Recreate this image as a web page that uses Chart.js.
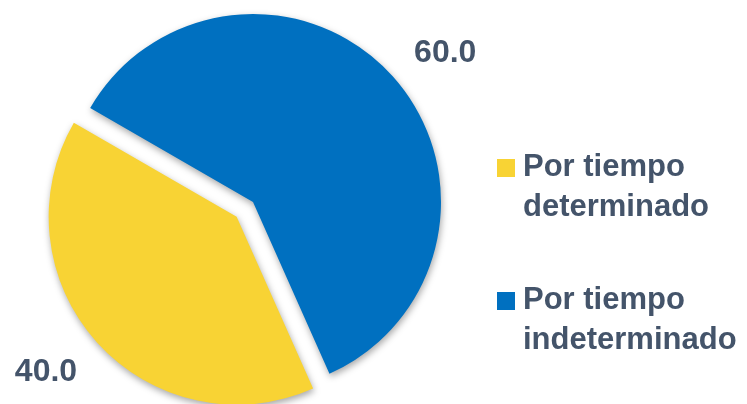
<!DOCTYPE html>
<html>
<head>
<meta charset="utf-8">
<script src="https://cdn.jsdelivr.net/npm/chart.js@4"></script>
<style>
  body { margin: 0; background: #fff; }
  #wrap { position: relative; width: 747px; height: 404px; overflow: hidden; }
  #myChart { position: absolute; left: 0; top: 0; }
  .leg { position: absolute; left: 497px; font: bold 31px "Liberation Sans", Arial, sans-serif; line-height: 40px; color: #44546A; }
  .leg .box { position: absolute; left: 0; top: 13px; width: 18px; height: 18px; }
  .leg .txt { position: absolute; left: 26px; top: 0; white-space: nowrap; }
</style>
</head>
<body>
<div id="wrap">
  <canvas id="myChart" width="747" height="404"></canvas>
  <div id="legend"></div>
</div>
<script>
const categories = [['Por tiempo', 'determinado'], ['Por tiempo', 'indeterminado']];
const values = [40.0, 60.0];
const colors = ['#F8D334', '#0070C0'];
const explode = [22, 0];

// legend drawn as html, two lines each
const legend = document.getElementById('legend');
categories.forEach((lines, i) => {
    const item = document.createElement('div');
    item.className = 'leg';
    item.style.top = (146 + i * 133) + 'px';
    item.innerHTML = '<div class="box" style="background:' + colors[i] + '"></div>' +
        '<div class="txt">' + lines.join('<br>') + '</div>';
    legend.appendChild(item);
});

// pulls slices out of the pie (chart.js offset also grows the slice, so do it by hand)
const explodePlugin = {
    id: 'explode',
    beforeDatasetDraw(chart, args) {
        const ctx = chart.ctx;
        ctx.save();
        ctx.shadowColor = 'rgba(0,0,0,0.35)';
        ctx.shadowBlur = 7;
        ctx.shadowOffsetX = 1;
        ctx.shadowOffsetY = 3;
        args.meta.data.forEach((arc, i) => {
            const mid = (arc.startAngle + arc.endAngle) / 2;
            ctx.save();
            ctx.translate(Math.cos(mid) * explode[i], Math.sin(mid) * explode[i]);
            arc.draw(ctx);
            ctx.restore();
        });
        ctx.restore();
        return false;
    }
};

// value labels outside the slices
const labelNudge = [0.045, 0.075];
const labelDist = [58, 55];
const valueLabels = {
    id: 'valueLabels',
    afterDatasetsDraw(chart) {
        const ctx = chart.ctx;
        const meta = chart.getDatasetMeta(0);
        ctx.save();
        ctx.font = 'bold 32px "Liberation Sans", Arial, sans-serif';
        ctx.fillStyle = '#44546A';
        ctx.textAlign = 'center';
        ctx.textBaseline = 'middle';
        meta.data.forEach((arc, i) => {
            const mid = (arc.startAngle + arc.endAngle) / 2 + labelNudge[i];
            const r = arc.outerRadius + labelDist[i] + explode[i];
            const x = arc.x + Math.cos(mid) * r;
            const y = arc.y + Math.sin(mid) * r;
            ctx.fillText(values[i].toFixed(1), x, y);
        });
        ctx.restore();
    }
};

const ctx = document.getElementById('myChart').getContext('2d');
const myChart = new Chart(ctx, {
    type: 'pie',
    data: {
        labels: categories.map(l => l.join(' ')),
        datasets: [{
            data: values,
            backgroundColor: colors,
            borderWidth: 0,
            hoverOffset: 0
        }]
    },
    options: {
        responsive: false,
        animation: false,
        devicePixelRatio: 1,
        events: [],
        rotation: 156,
        radius: 188,
        layout: { padding: { left: 0, right: 241, top: 0, bottom: 0 } },
        plugins: {
            legend: { display: false },
            tooltip: { enabled: false }
        }
    },
    plugins: [explodePlugin, valueLabels]
});
</script>
</body>
</html>
